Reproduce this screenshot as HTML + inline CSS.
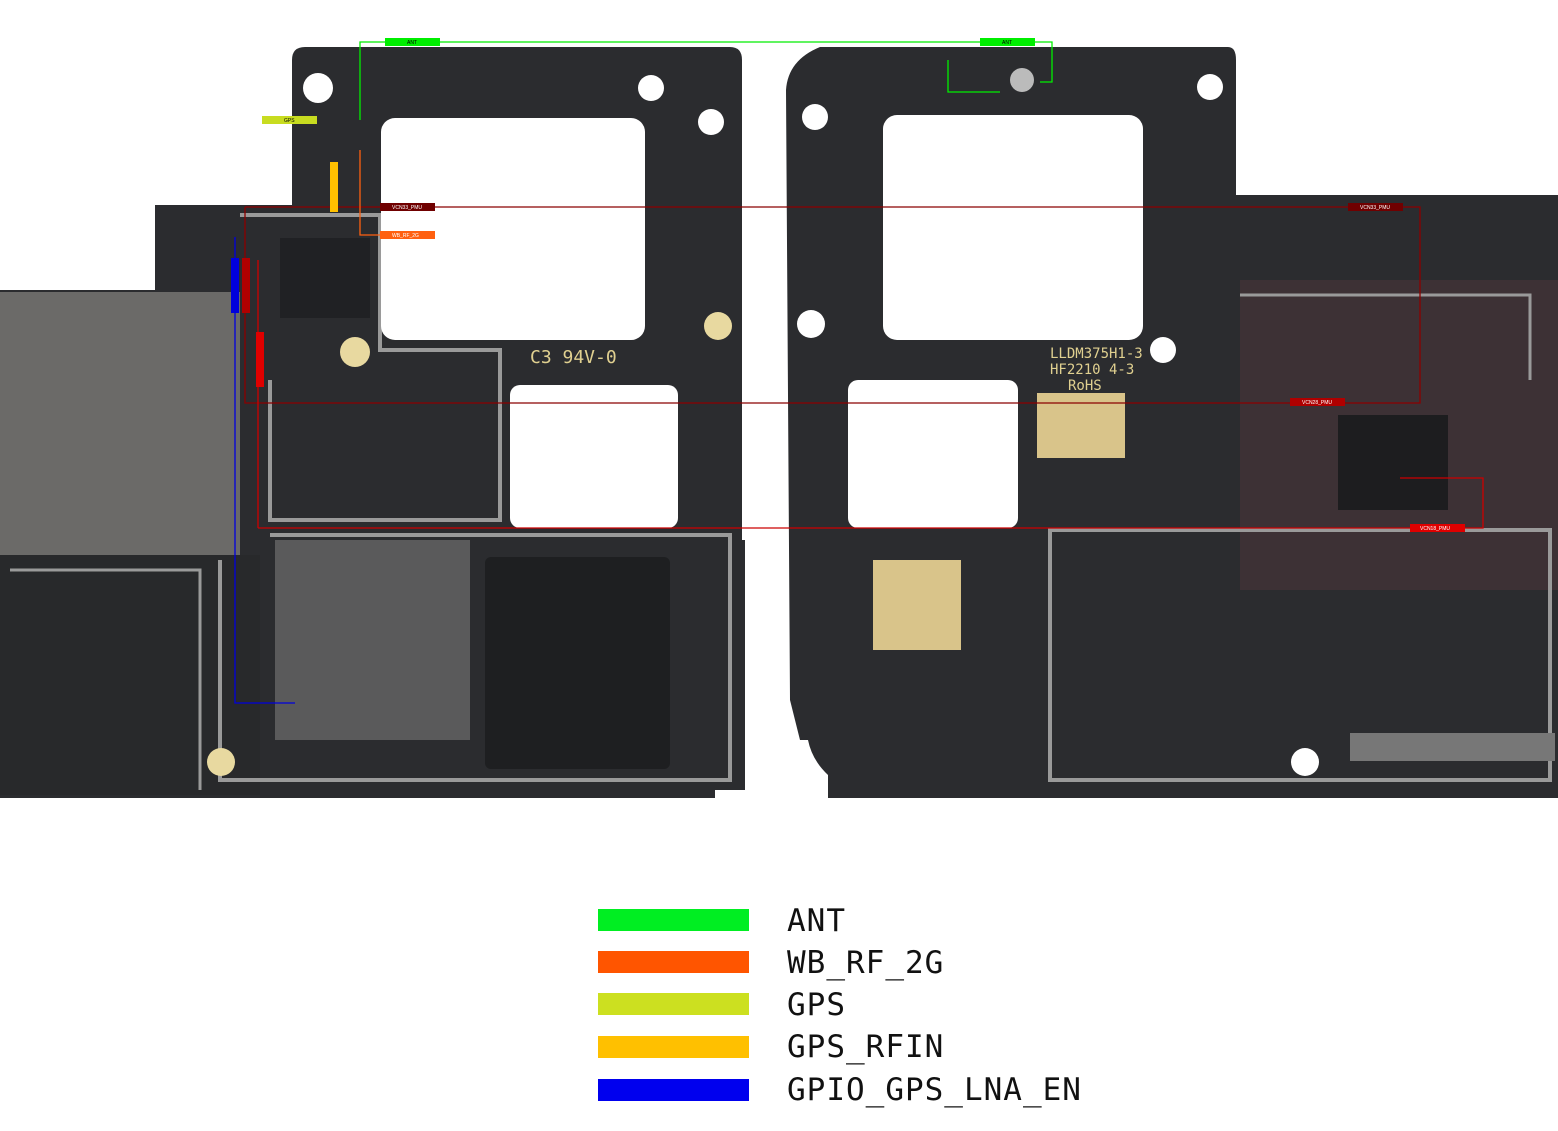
<!DOCTYPE html>
<html><head><meta charset="utf-8"><style>
html,body{margin:0;padding:0;background:#fff;width:1558px;height:1131px;overflow:hidden}
svg{display:block}
.lg{font-family:"DejaVu Sans Mono","Liberation Mono",monospace;font-size:31px;letter-spacing:1px;fill:#111}
.sm{font-family:"Liberation Sans",sans-serif;font-size:5px;fill:#fff}
</style></head><body>
<svg width="1558" height="1131" viewBox="0 0 1558 1131" xmlns="http://www.w3.org/2000/svg">
<path d="M300 47 L730 47 Q742 47 742 60 L742 540 L745 540 L745 790 L715 790 L715 798 L0 798 L0 290 L155 290 L155 205 L292 205 L292 60 Q292 47 305 47 Z" fill="#2b2c2f"/>
<rect x="0" y="292" width="240" height="265" fill="#6b6a68"/>
<rect x="0" y="555" width="260" height="240" fill="#28292b"/>
<rect x="275" y="540" width="195" height="200" fill="#7a7a7a" opacity="0.6"/>
<rect x="485" y="557" width="185" height="212" rx="6" fill="#1e1f21"/>
<rect x="280" y="238" width="90" height="80" fill="#202124"/>
<path d="M240 215 L380 215 L380 350 L500 350 L500 520 L270 520 L270 380" fill="none" stroke="#9a9a9a" stroke-width="4"/>
<path d="M270 535 L730 535 L730 780 L220 780 L220 560" fill="none" stroke="#9a9a9a" stroke-width="4"/>
<path d="M10 570 L200 570 L200 790" fill="none" stroke="#9a9a9a" stroke-width="3"/>
<rect x="381" y="118" width="264" height="222" rx="14" fill="#fff"/>
<rect x="510" y="385" width="168" height="143" rx="10" fill="#fff"/>
<circle cx="318" cy="88" r="15" fill="#fff"/>
<circle cx="651" cy="88" r="13" fill="#fff"/>
<circle cx="711" cy="122" r="13" fill="#fff"/>
<circle cx="718" cy="326" r="14" fill="#e8d9a0"/>
<circle cx="355" cy="352" r="15" fill="#e8d9a0"/>
<circle cx="221" cy="762" r="14" fill="#e8d9a0"/>
<text x="530" y="363" font-family="DejaVu Sans Mono,monospace" font-size="18" fill="#e0d090">C3  94V-0</text>
<path d="M820 47 L1228 47 Q1236 47 1236 60 L1236 195 L1558 195 L1558 798 L828 798 L828 775 Q812 760 808 740 L800 740 L790 700 L786 90 Q788 60 820 47 Z" fill="#2b2c2f"/>
<rect x="1240" y="280" width="318" height="310" fill="#5a3a3f" opacity="0.4"/>
<rect x="873" y="560" width="88" height="90" fill="#d9c48a"/>
<rect x="1037" y="393" width="88" height="65" fill="#d9c48a"/>
<rect x="1338" y="415" width="110" height="95" fill="#1d1d1f"/>
<path d="M1050 530 L1550 530 L1550 780 L1050 780 Z" fill="none" stroke="#9a9a9a" stroke-width="4"/>
<path d="M1240 295 L1530 295 L1530 380" fill="none" stroke="#9a9a9a" stroke-width="3"/>
<rect x="883" y="115" width="260" height="225" rx="14" fill="#fff"/>
<rect x="848" y="380" width="170" height="148" rx="10" fill="#fff"/>
<circle cx="1022" cy="80" r="12" fill="#bbb"/>
<circle cx="1210" cy="87" r="13" fill="#fff"/>
<circle cx="815" cy="117" r="13" fill="#fff"/>
<circle cx="811" cy="324" r="14" fill="#fff"/>
<circle cx="1163" cy="350" r="13" fill="#fff"/>
<circle cx="1305" cy="762" r="14" fill="#fff"/>
<rect x="1350" y="733" width="205" height="28" fill="#777"/>
<text x="1050" y="358" font-family="DejaVu Sans Mono,monospace" font-size="14" fill="#e0d090">LLDM375H1-3</text>
<text x="1050" y="374" font-family="DejaVu Sans Mono,monospace" font-size="14" fill="#e0d090">HF2210 4-3</text>
<text x="1068" y="390" font-family="DejaVu Sans Mono,monospace" font-size="14" fill="#e0d090">RoHS</text>
<g fill="none" stroke-width="1.3">
<path d="M360 120 L360 42 L1052 42 L1052 82 L1040 82 M948 60 L948 92 L1000 92" stroke="#00ee00"/>
<path d="M245 207 L1420 207 L1420 403 L245 403 L245 207" stroke="#8b0000"/>
<path d="M258 528 L1483 528 L1483 478 L1400 478 M258 528 L258 260" stroke="#cc0000"/>
<path d="M235 237 L235 703 L295 703" stroke="#0000dd"/>
<path d="M360 150 L360 235 L380 235" stroke="#ff6010"/>
</g>
<rect x="385" y="38" width="55" height="8" fill="#00ee00"/>
<rect x="980" y="38" width="55" height="8" fill="#00ee00"/>
<rect x="262" y="116" width="55" height="8" fill="#c8dc20"/>
<rect x="330" y="162" width="8" height="50" fill="#ffc000"/>
<rect x="380" y="203" width="55" height="8" fill="#700000"/>
<rect x="380" y="231" width="55" height="8" fill="#ff6010"/>
<rect x="1348" y="203" width="55" height="8" fill="#700000"/>
<rect x="1290" y="398" width="55" height="8" fill="#b00000"/>
<rect x="1410" y="524" width="55" height="8" fill="#e00000"/>
<rect x="231" y="258" width="8" height="55" fill="#0000dd"/>
<rect x="242" y="258" width="8" height="55" fill="#b00000"/>
<rect x="256" y="332" width="8" height="55" fill="#e00000"/>
<text x="407" y="44" class="sm" style="fill:#000">ANT</text>
<text x="1002" y="44" class="sm" style="fill:#000">ANT</text>
<text x="284" y="122" class="sm" style="fill:#000">GPS</text>
<text x="392" y="209" class="sm">VCN33_PMU</text>
<text x="392" y="237" class="sm">WB_RF_2G</text>
<text x="1360" y="209" class="sm">VCN33_PMU</text>
<text x="1302" y="404" class="sm">VCN28_PMU</text>
<text x="1420" y="530" class="sm">VCN18_PMU</text>
<rect x="598" y="909" width="151" height="22" fill="#00ee22"/>
<rect x="598" y="951" width="151" height="22" fill="#ff5500"/>
<rect x="598" y="993" width="151" height="22" fill="#cce020"/>
<rect x="598" y="1036" width="151" height="22" fill="#ffc000"/>
<rect x="598" y="1079" width="151" height="22" fill="#0000ee"/>
<text x="787" y="931" class="lg">ANT</text>
<text x="787" y="973" class="lg">WB_RF_2G</text>
<text x="787" y="1015" class="lg">GPS</text>
<text x="787" y="1057" class="lg">GPS_RFIN</text>
<text x="787" y="1100" class="lg">GPIO_GPS_LNA_EN</text>
</svg>
</body></html>
